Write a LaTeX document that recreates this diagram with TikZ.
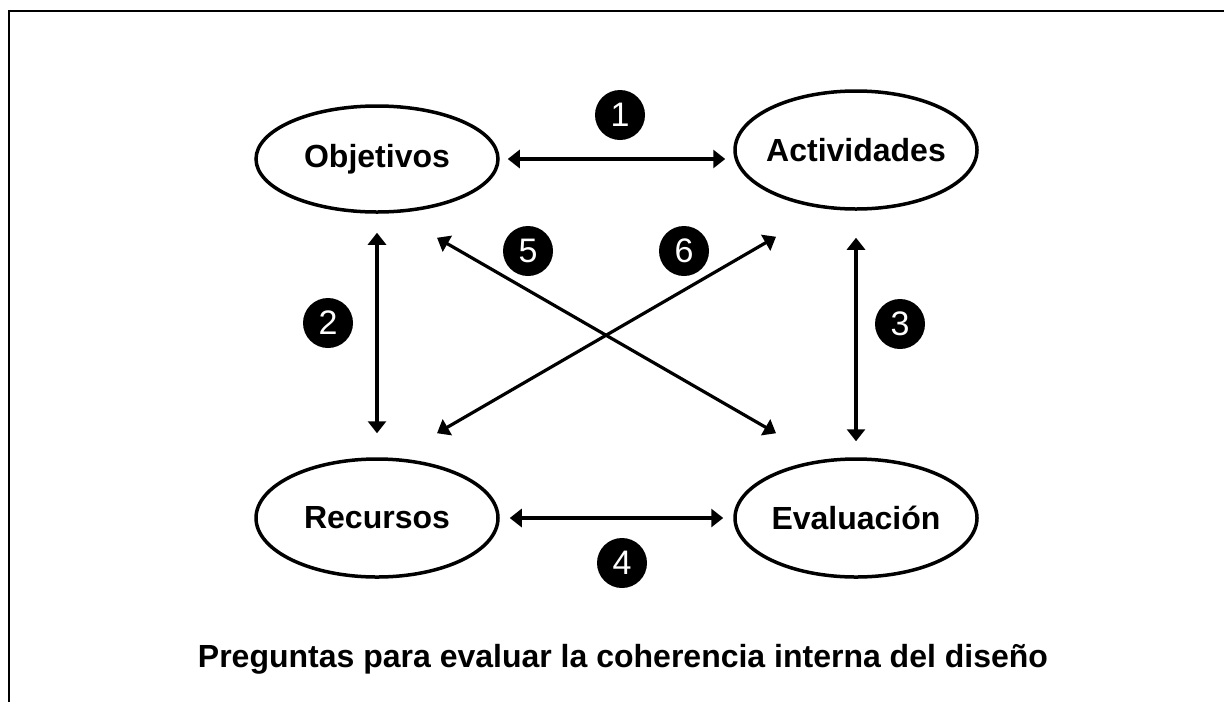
\documentclass[tikz,border=0pt]{standalone}
\usepackage{fontspec}
\setmainfont{Liberation Sans}
\usepackage{tikz}
\usetikzlibrary{shapes,arrows.meta,positioning}
\tikzstyle{topic} = [draw, ellipse, line width=1.75pt, minimum width=121pt, minimum height=59pt, inner xsep=-8pt, inner ysep=0pt, font=\bfseries\fontsize{16}{19}\selectfont]
\tikzstyle{qnum} = [circle, fill=black, text=white, minimum size=25pt, inner sep=0pt, font=\fontsize{17}{20}\selectfont]
\tikzstyle{arrow} = [draw, line width=1.6pt, >={Triangle[width=9pt,length=6pt]}, <->]
\tikzstyle{caption} = [font=\bfseries\fontsize{16}{19}\selectfont]
\newcommand{\topic}[2]{node (t#1) [topic] {#2}}
\newcommand{\qnum}[2]{node (q#1) [qnum] {#2}}

\begin{document}
\begin{tikzpicture}[x=0.5pt,y=-0.5pt]
\useasboundingbox (0,0) rectangle (1224,702);
\draw [line width=1.3pt] (9,702) -- (9,11) -- (1224,11);

\path (377,159) node (t1) [topic, minimum height=53pt] {Objetivos};
\path (t1)+(479,-9) \topic{2}{Actividades};
\path (t1)+(0,359) \topic{3}{Recursos};
\path (t3)+(479,0) \topic{4}{Evaluación};

\path [arrow, shorten <=4pt, shorten >=4pt] (t1.east) -- (t1.east -| t2.west) node[] {};
\path [arrow, shorten <=5pt, shorten >=5pt] (t3.east) -- (t4.west) node[] {};
\path [arrow, shorten <=9.5pt, shorten >=12pt] (t1.south) -- (t3.north) node[] {};
\path [arrow, shorten <=13.5pt, shorten >=8pt] (t2.south) -- (t4.north) node[] {};
\path [arrow] ([xshift=30pt,yshift=-12pt]t1.south) -- ([xshift=-40pt,yshift=12pt]t4.north) node[] {};
\path [arrow] ([xshift=-40pt,yshift=-13pt]t2.south) -- ([xshift=30pt,yshift=12pt]t3.north) node[] {};

\path (t1)+(243,-44) \qnum{1}{1};
\path (t1)+(-49,164) \qnum{2}{2};
\path (t2)+(44,174) \qnum{3}{3};
\path (t3)+(245,45) \qnum{4}{4};
\path (t1)+(151,92) \qnum{5}{5};
\path (t2)+(-172,101) \qnum{6}{6};

\path (t3)+(246,141) node (title) [caption] {Preguntas para evaluar la coherencia interna del diseño};
\end{tikzpicture}
\end{document}
